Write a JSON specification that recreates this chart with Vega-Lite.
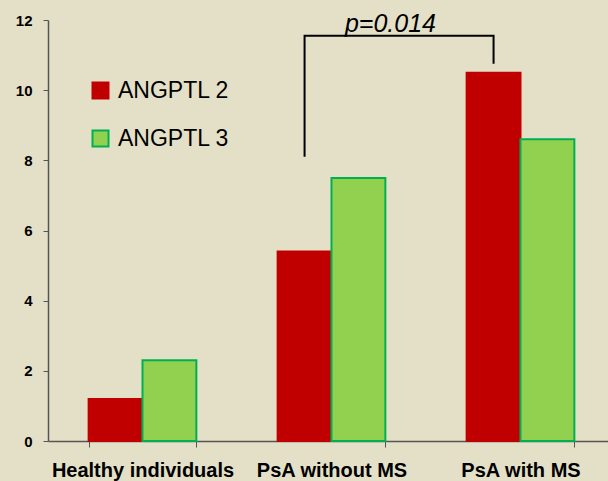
{
  "$schema": "https://vega.github.io/schema/vega-lite/v6.json",
  "autosize": {"type": "none"},
  "width": 567,
  "height": 421,
  "padding": {"left": 48, "top": 20, "right": 0, "bottom": 40},
  "background": "#e4e0c8",
  "config": {"view": {"stroke": null}, "font": "Liberation Sans"},
  "datasets": {
    "bars": [
      {"group": "Healthy individuals", "series": "ANGPTL 2", "value": 1.2},
      {"group": "Healthy individuals", "series": "ANGPTL 3", "value": 2.3},
      {"group": "PsA without MS", "series": "ANGPTL 2", "value": 5.4},
      {"group": "PsA without MS", "series": "ANGPTL 3", "value": 7.5},
      {"group": "PsA with MS", "series": "ANGPTL 2", "value": 10.5},
      {"group": "PsA with MS", "series": "ANGPTL 3", "value": 8.6}
    ],
    "bracket": [
      {"group": "PsA without MS", "series": "ANGPTL 2", "value": 8.1, "step": 1},
      {"group": "PsA without MS", "series": "ANGPTL 2", "value": 11.55, "step": 2},
      {"group": "PsA with MS", "series": "ANGPTL 2", "value": 11.55, "step": 3},
      {"group": "PsA with MS", "series": "ANGPTL 2", "value": 10.75, "step": 4}
    ],
    "note": [
      {"group": "PsA without MS", "series": "ANGPTL 3", "value": 11.66, "label": "p=0.014"}
    ]
  },
  "encoding": {
    "x": {
      "field": "group",
      "type": "nominal",
      "sort": ["Healthy individuals", "PsA without MS", "PsA with MS"],
      "scale": {"paddingInner": 0.43, "paddingOuter": 0.215},
      "title": null,
      "axis": {
        "labelAngle": 0,
        "labelFontSize": 20,
        "labelFontWeight": "bold",
        "labelColor": "#000000",
        "labelPadding": 13,
        "labelLimit": 400,
        "tickSize": 6,
        "tickBand": "extent",
        "domainColor": "#555555",
        "tickColor": "#555555",
        "domainWidth": 1.5,
        "grid": false
      }
    },
    "xOffset": {"field": "series", "type": "nominal", "sort": ["ANGPTL 2", "ANGPTL 3"]},
    "y": {
      "field": "value",
      "type": "quantitative",
      "scale": {"domain": [0, 12]},
      "title": null,
      "axis": {
        "values": [0, 2, 4, 6, 8, 10, 12],
        "labelFontSize": 15,
        "labelFontWeight": "bold",
        "labelColor": "#000000",
        "labelPadding": 11,
        "tickSize": 5,
        "domainColor": "#555555",
        "tickColor": "#555555",
        "domainWidth": 1.5,
        "grid": false
      }
    }
  },
  "layer": [
    {
      "data": {"name": "bars"},
      "mark": {"type": "bar", "strokeWidth": 2},
      "encoding": {
        "color": {
          "field": "series",
          "type": "nominal",
          "scale": {"domain": ["ANGPTL 2", "ANGPTL 3"], "range": ["#c00000", "#92d050"]},
          "legend": {
            "orient": "none",
            "legendX": 41,
            "legendY": 59,
            "title": null,
            "symbolType": "square",
            "symbolSize": 256,
            "symbolStrokeWidth": 2,
            "labelFontSize": 23,
            "labelColor": "#000000",
            "labelOffset": 6,
            "rowPadding": 23
          }
        },
        "stroke": {
          "field": "series",
          "type": "nominal",
          "scale": {"domain": ["ANGPTL 2", "ANGPTL 3"], "range": ["#c00000", "#00b050"]},
          "legend": {
            "orient": "none",
            "legendX": 41,
            "legendY": 59,
            "title": null,
            "symbolType": "square",
            "symbolSize": 256,
            "symbolStrokeWidth": 2,
            "labelFontSize": 23,
            "labelColor": "#000000",
            "labelOffset": 6,
            "rowPadding": 23
          }
        }
      }
    },
    {
      "data": {"name": "bracket"},
      "mark": {"type": "line", "color": "#000000", "strokeWidth": 2},
      "encoding": {"order": {"field": "step", "type": "quantitative"}}
    },
    {
      "data": {"name": "note"},
      "mark": {"type": "text", "fontStyle": "italic", "fontSize": 25, "dx": 32, "baseline": "alphabetic", "color": "#000000"},
      "encoding": {"text": {"field": "label"}}
    }
  ]
}
